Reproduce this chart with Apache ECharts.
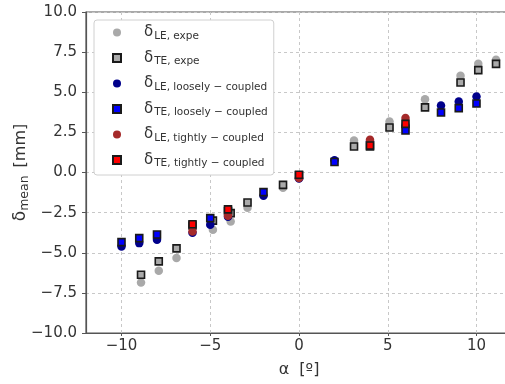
<!DOCTYPE html>
<html><head><meta charset="utf-8">
<script src="https://cdn.jsdelivr.net/npm/echarts@6/dist/echarts.min.js"></script>
<style>html,body{margin:0;padding:0;background:#fff}#c{width:505px;height:384px}</style>
</head><body><div id="c"></div>
<script>
// ---- data ----
const alphaExpe = [-8.9, -7.9, -6.9, -4.85, -3.85, -2.9, -0.9, 3.1, 5.1, 7.1, 9.1, 10.1, 11.1];
const leExpe    = [-6.85, -6.12, -5.33, -3.57, -3.05, -2.2, -0.95, 2.0, 3.18, 4.57, 6.03, 6.77, 7.02];
const teExpe    = [-6.37, -5.54, -4.73, -3.0, -2.53, -1.87, -0.77, 1.62, 2.8, 4.06, 5.61, 6.38, 6.77];

const alphaLoose = [-10, -9, -8, -6, -5, -4, -2, 0, 2, 4, 6, 8, 9, 10];
const leLoose    = [-4.61, -4.4, -4.19, -3.76, -3.26, -2.75, -1.45, -0.38, 0.77, 1.95, 2.95, 4.17, 4.42, 4.74];
const teLoose    = [-4.34, -4.09, -3.86, -3.3, -2.84, -2.4, -1.22, -0.18, 0.65, 1.62, 2.62, 3.74, 4.01, 4.3];

const alphaTight = [-6, -4, 0, 4, 6];
const leTight    = [-3.67, -2.7, -0.35, 2.04, 3.39];
const teTight    = [-3.22, -2.3, -0.14, 1.68, 3.03];

const xTicks = [-10, -5, 0, 5, 10];
const yTicks = [-10, -7.5, -5, -2.5, 0, 2.5, 5, 7.5, 10];

const seriesNames = ['LE, expe', 'TE, expe', 'LE, loosely − coupled', 'TE, loosely − coupled', 'LE, tightly − coupled', 'TE, tightly − coupled'];

// ---- chart ----
function pairs(xs, ys) { return xs.map((x, i) => [x, ys[i]]); }
const minus = v => String(v).replace('-', '\u2212');
const SQUARE = 'path://M0 0H10V10H0Z';

const circ = (name, xs, ys, color) => ({
  type: 'scatter', name, data: pairs(xs, ys), symbol: 'circle', symbolSize: 8.5,
  itemStyle: { color, opacity: 1 }
});
const sq = (name, xs, ys, color) => ({
  type: 'scatter', name, data: pairs(xs, ys), symbol: 'rect', symbolSize: 7,
  itemStyle: { color, borderColor: '#1a1a1a', borderWidth: 1.6, opacity: 1 }
});

const chart = echarts.init(document.getElementById('c'), null, { renderer: 'canvas' });
const fontMain = 'DejaVu Sans, sans-serif';
chart.setOption({
  animation: false,
  backgroundColor: '#fff',
  grid: { left: 86, top: 12, bottom: 51, right: -7, containLabel: false, outerBoundsMode: 'none',
          show: true, borderColor: '#555', borderWidth: 1.2, backgroundColor: 'transparent' },
  xAxis: {
    type: 'value', min: -12, max: 12, interval: 5,
    name: 'α  [º]', nameLocation: 'middle', nameGap: 29, nameMoveOverlap: false,
    nameTextStyle: { fontFamily: fontMain, fontSize: 16, color: '#333' },
    axisLine: { show: true, onZero: false, lineStyle: { color: '#555', width: 1.2 } },
    axisTick: { show: true, length: 3, lineStyle: { color: '#555' }, customValues: xTicks },
    axisLabel: { fontFamily: fontMain, fontSize: 15, color: '#333', margin: 6, formatter: minus, customValues: xTicks },
    splitLine: { show: true, lineStyle: { color: '#c8c8c8', type: [3, 3], width: 1 } }
  },
  yAxis: {
    type: 'value', min: -10, max: 10, interval: 2.5,
    name: '{d|δ}{s|mean}{n|[mm]}', nameLocation: 'middle', nameGap: 55, nameRotate: 90, nameMoveOverlap: false,
    nameTextStyle: { fontFamily: fontMain, color: '#333',
      rich: { d: { fontSize: 17, fontFamily: fontMain, color: '#333' },
              s: { fontSize: 12.5, fontFamily: fontMain, color: '#333', padding: [8, 0, 0, 0] },
              n: { fontSize: 16, fontFamily: fontMain, color: '#333', padding: [0, 0, 0, 8] } } },
    axisLine: { show: true, onZero: false, lineStyle: { color: '#555', width: 1.2 } },
    axisTick: { show: true, length: 4, lineStyle: { color: '#555' } },
    axisLabel: { fontFamily: fontMain, fontSize: 15, color: '#333', margin: 9,
      formatter: v => minus(v.toFixed(1)) },
    splitLine: { show: true, lineStyle: { color: '#c8c8c8', type: [3, 3], width: 1 } }
  },
  legend: {
    left: 94, top: 20, orient: 'vertical',
    padding: [5, 6, 6, 18],
    itemWidth: 8, itemHeight: 8, itemGap: 9,
    backgroundColor: '#fff', borderColor: '#d0d0d0', borderWidth: 1, borderRadius: 3,
    data: seriesNames.map((n, i) => ({ name: n, icon: i % 2 === 0 ? 'circle' : SQUARE })),
    formatter: n => '{d|δ}{s|' + n + '}',
    textStyle: { color: '#333',
      rich: { d: { fontSize: 15, fontFamily: fontMain, color: '#333', padding: [0, 0, 0, 18] },
              s: { fontSize: 10.5, fontFamily: fontMain, color: '#333', padding: [7, 0, 0, 1] } } }
  },
  series: [
    circ(seriesNames[0], alphaExpe, leExpe, '#a9a9a9'),
    sq(seriesNames[1], alphaExpe, teExpe, '#aaaaaa'),
    circ(seriesNames[2], alphaLoose, leLoose, '#00008b'),
    sq(seriesNames[3], alphaLoose, teLoose, '#0000ff'),
    circ(seriesNames[4], alphaTight, leTight, '#a52a2a'),
    sq(seriesNames[5], alphaTight, teTight, '#ff0000')
  ]
});
</script></body></html>
